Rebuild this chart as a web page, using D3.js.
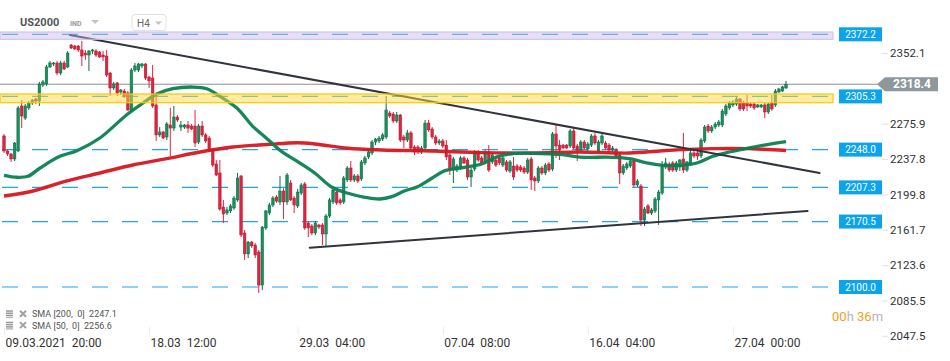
<!DOCTYPE html>
<html><head><meta charset="utf-8">
<script src="https://cdn.jsdelivr.net/npm/d3@7"></script>
<style>
html,body{margin:0;padding:0;background:#fff;}
svg{display:block;font-family:Roboto,"Open Sans",Arial,sans-serif;}
</style></head><body>
<svg id="c" width="950" height="361"></svg>
<script>
// ---- Data (US2000, H4) ----
const opens=[
2262.7,2246.5,2243.3,2237.9,2246.5,2295.0,2282.0,2292.9,2298.2,2302.5,
2300.3,2317.6,2318.7,2337.0,2340.2,2341.3,2330.5,2341.3,2337.0,2360.7,
2359.6,2359.6,2355.3,2352.0,2349.9,2354.2,2354.2,2353.1,2349.9,2348.8,
2330.5,2314.4,2319.8,2310.0,2311.1,2309.0,2290.7,2333.7,2333.7,2338.1,
2340.2,2326.2,2325.1,2296.1,2263.8,2267.0,2261.6,2274.5,2271.2,2283.1,
2272.3,2272.3,2274.5,2273.4,2273.4,2256.2,2273.4,2263.8,2260.5,2247.5,
2232.5,2222.8,2186.2,2179.7,2181.9,2185.1,2193.8,2219.6,2158.2,2135.6,
2148.4,2145.2,2137.7,2102.1,2163.6,2179.7,2188.4,2196.9,2191.6,2203.4,
2191.6,2212.0,2195.8,2187.3,2201.2,2211.0,2168.9,2165.7,2158.2,2166.8,
2166.8,2157.1,2176.5,2191.6,2202.3,2193.8,2191.6,2215.3,2228.2,2215.3,
2219.6,2216.4,2233.6,2240.1,2244.4,2256.2,2257.3,2259.4,2261.6,2287.4,
2286.4,2278.8,2285.3,2261.6,2258.3,2266.0,2250.8,2250.8,2245.5,2249.7,
2276.6,2270.2,2261.6,2255.1,2257.3,2252.9,2242.2,2226.0,2226.0,2228.2,
2239.0,2236.8,2218.5,2227.1,2245.5,2239.0,2234.7,2245.5,2234.7,2236.8,
2239.0,2231.4,2234.7,2224.9,2230.3,2230.3,2229.2,2228.2,2223.8,2237.9,
2217.4,2214.2,2228.2,2222.8,2232.5,2227.1,2264.8,2252.9,2252.9,2252.9,
2251.9,2268.1,2251.9,2247.5,2256.2,2248.8,2252.9,2262.7,2246.5,2255.1,
2255.1,2252.9,2247.5,2247.5,2242.2,2222.8,2228.2,2230.3,2235.7,2209.9,
2208.8,2172.1,2187.3,2179.7,2181.9,2193.8,2201.2,2229.2,2232.5,2233.6,
2226.0,2229.2,2237.9,2226.0,2233.6,2244.4,2244.4,2241.1,2257.3,2273.4,
2268.1,2272.3,2274.5,2274.5,2286.4,2292.9,2296.1,2297.1,2302.5,2298.2,
2298.2,2297.1,2297.1,2293.9,2293.9,2296.1,2288.5,2298.2,2296.1,2310.1,
2311.1,2314.4];
const highs=[
2264.8,2247.5,2244.4,2256.2,2295.0,2301.4,2297.1,2300.3,2302.5,2303.6,
2320.9,2323.0,2339.2,2343.5,2342.4,2343.5,2343.5,2343.5,2354.2,2361.8,
2360.7,2360.7,2365.0,2355.3,2355.3,2356.4,2356.4,2354.2,2354.2,2355.3,
2331.6,2320.9,2320.9,2313.3,2313.3,2311.1,2335.9,2341.3,2341.3,2341.3,
2341.3,2327.3,2339.2,2306.8,2272.3,2268.1,2277.7,2292.9,2295.0,2285.3,
2278.8,2275.6,2278.8,2275.6,2290.7,2275.6,2278.8,2266.0,2262.7,2248.6,
2236.8,2236.8,2193.8,2186.2,2189.4,2198.0,2222.8,2220.6,2161.4,2149.5,
2149.5,2147.4,2139.9,2165.7,2183.0,2190.6,2198.0,2199.1,2219.6,2206.6,
2222.8,2215.3,2198.0,2205.6,2212.0,2213.1,2171.0,2167.9,2171.0,2167.9,
2168.9,2178.6,2195.8,2206.6,2204.5,2195.8,2219.6,2230.3,2235.7,2221.7,
2221.7,2236.8,2241.1,2247.5,2258.3,2260.5,2262.7,2266.0,2305.7,2289.6,
2288.5,2288.5,2286.4,2263.8,2269.2,2268.1,2252.9,2252.9,2251.9,2279.9,
2279.9,2272.3,2263.8,2259.4,2259.4,2258.3,2244.4,2240.1,2232.5,2241.1,
2241.1,2239.0,2228.2,2247.5,2247.5,2241.1,2247.5,2252.9,2244.4,2239.0,
2241.1,2241.1,2236.8,2236.8,2240.1,2232.5,2231.4,2230.3,2239.0,2240.1,
2219.6,2230.3,2230.3,2233.6,2234.7,2267.0,2274.5,2258.3,2254.0,2254.0,
2270.2,2271.3,2254.0,2258.3,2258.3,2256.2,2264.8,2266.0,2258.3,2264.8,
2257.3,2255.1,2251.9,2249.7,2245.5,2232.5,2234.7,2237.9,2237.9,2216.4,
2211.0,2186.2,2189.4,2185.1,2196.9,2204.5,2235.7,2239.0,2234.7,2235.7,
2235.7,2237.9,2266.0,2235.7,2247.5,2246.5,2249.7,2260.5,2274.5,2275.6,
2274.5,2277.7,2279.9,2291.8,2297.1,2300.3,2301.4,2304.7,2303.6,2300.3,
2306.8,2299.2,2299.2,2297.1,2297.1,2298.2,2299.2,2306.8,2313.3,2314.4,
2316.6,2322.0];
const lows=[
2244.4,2241.1,2234.7,2235.7,2245.5,2271.2,2279.9,2290.7,2296.1,2297.1,
2295.0,2315.5,2316.6,2335.9,2338.1,2328.3,2328.3,2333.7,2335.9,2356.4,
2355.3,2353.1,2338.1,2344.6,2332.7,2351.0,2347.8,2346.7,2343.5,2326.2,
2305.7,2312.2,2305.7,2306.8,2303.6,2289.6,2288.5,2331.6,2331.6,2335.9,
2323.0,2314.4,2292.9,2257.3,2261.6,2259.4,2258.3,2241.1,2268.1,2277.7,
2268.1,2270.2,2266.0,2269.2,2250.8,2254.0,2261.6,2255.1,2245.5,2229.2,
2219.6,2181.9,2168.9,2177.5,2179.7,2183.0,2191.6,2153.8,2129.1,2131.2,
2142.1,2131.2,2093.6,2096.7,2161.4,2177.5,2186.2,2190.6,2188.4,2173.2,
2188.4,2192.6,2179.7,2185.1,2199.1,2161.4,2153.8,2155.9,2155.9,2162.5,
2145.2,2144.2,2174.3,2189.4,2188.4,2188.4,2189.4,2213.1,2213.1,2213.1,
2212.0,2214.2,2231.4,2237.9,2242.2,2252.9,2255.1,2257.3,2259.4,2282.0,
2276.6,2276.6,2256.2,2249.7,2256.2,2248.6,2242.2,2243.3,2243.3,2247.5,
2267.0,2259.4,2252.9,2252.9,2249.7,2236.8,2220.6,2212.0,2223.8,2226.0,
2232.5,2215.3,2207.7,2224.9,2234.7,2231.4,2232.5,2223.8,2232.5,2229.2,
2231.4,2229.2,2223.8,2222.8,2215.3,2223.8,2223.8,2221.7,2221.7,2204.5,
2203.4,2212.0,2220.6,2220.6,2223.8,2224.9,2239.0,2236.8,2248.8,2248.8,
2249.7,2248.6,2235.7,2245.5,2248.6,2246.5,2250.8,2252.9,2244.4,2252.9,
2247.7,2245.5,2245.5,2239.0,2211.0,2220.6,2226.0,2228.2,2207.7,2207.7,
2165.7,2165.7,2178.6,2177.5,2179.7,2166.8,2199.1,2227.1,2223.8,2223.8,
2223.8,2224.9,2222.8,2223.8,2231.4,2239.0,2236.8,2239.0,2255.1,2266.0,
2266.0,2270.2,2272.3,2272.3,2284.2,2290.7,2293.9,2295.0,2289.6,2289.6,
2289.6,2292.9,2290.7,2292.9,2292.9,2282.0,2286.4,2289.6,2293.9,2309.0,
2310.1,2313.3];
const closes=[
2246.5,2243.3,2237.9,2255.1,2292.9,2284.2,2295.0,2298.2,2301.4,2300.3,
2318.7,2320.9,2337.0,2341.3,2341.3,2330.5,2341.3,2334.8,2352.0,2357.4,
2356.4,2355.3,2348.8,2349.9,2354.2,2355.3,2349.9,2347.8,2347.8,2328.3,
2314.4,2318.7,2309.0,2312.2,2305.7,2290.7,2333.7,2338.1,2340.2,2340.2,
2325.1,2322.0,2295.0,2263.8,2267.0,2260.5,2275.6,2271.2,2283.1,2279.9,
2274.5,2274.5,2271.2,2270.2,2255.1,2273.4,2263.8,2257.3,2247.5,2231.4,
2220.6,2184.0,2178.6,2183.0,2187.3,2195.8,2217.4,2156.0,2135.6,2148.4,
2144.2,2134.5,2102.1,2164.6,2181.9,2188.4,2195.8,2192.6,2203.4,2191.6,
2220.6,2193.8,2188.4,2202.3,2209.9,2163.6,2163.6,2158.2,2168.9,2164.6,
2157.1,2176.5,2193.8,2204.5,2190.6,2190.6,2217.4,2228.2,2215.3,2219.6,
2214.2,2234.7,2239.0,2245.5,2256.2,2259.4,2260.5,2263.8,2290.7,2284.2,
2278.8,2285.3,2258.3,2258.3,2266.0,2249.7,2245.5,2245.5,2249.7,2276.6,
2269.2,2261.6,2255.1,2257.3,2251.9,2240.1,2226.0,2237.9,2230.3,2239.0,
2233.6,2218.5,2226.0,2245.5,2236.8,2233.6,2245.5,2226.0,2242.2,2231.4,
2233.6,2239.0,2226.0,2234.7,2218.5,2226.0,2226.0,2223.8,2236.8,2215.3,
2214.2,2228.2,2222.8,2231.4,2226.0,2264.8,2251.9,2247.5,2249.7,2249.7,
2268.1,2249.7,2247.5,2256.2,2249.7,2254.0,2262.7,2255.1,2256.2,2262.7,
2249.7,2247.5,2249.7,2241.1,2222.8,2230.3,2232.5,2235.7,2209.9,2214.2,
2172.1,2184.0,2179.7,2183.0,2194.8,2202.3,2230.3,2233.6,2226.0,2226.0,
2233.6,2236.8,2226.0,2234.7,2244.4,2241.1,2241.1,2258.3,2272.3,2268.1,
2272.3,2275.6,2277.7,2289.6,2295.0,2298.2,2299.2,2302.5,2291.8,2291.8,
2295.0,2295.0,2292.9,2296.1,2296.1,2288.5,2297.1,2291.8,2311.1,2313.3,
2315.5,2318.4];

// SMA lines (candle index, value)
const sma200Idx=[0,8.2,17.8,27.1,36.4,46,55.4,64.7,74.3,83,87.9,97.2,106.8,120.9,135,149.2,162.7,176.8,186.2,200.3,209.9,221];
const sma200Val=[2198.0,2203.4,2214.2,2222.8,2231.4,2238.2,2245.4,2250.8,2253.5,2255.4,2254.1,2249.4,2247.6,2246.5,2244.7,2244.3,2245.4,2244.3,2246.8,2249.0,2249.0,2247.1];
const sma50Idx=[0,3.7,6.8,10.2,15.8,20.6,27.1,34.7,39.3,43.2,47.7,53.4,57.3,61,65.8,70.3,73.7,78.5,83,87.9,92.7,97.2,102,106.2,109.6,113.3,116.9,120.9,124.6,130.2,135,139.5,144.4,149.2,157.9,162.7,172,176.8,181.6,186.2,191,195.8,200.3,205.1,214.4,221];
const sma50Val=[2220.3,2218.2,2219.3,2228.2,2240.8,2246.8,2260.5,2285.6,2298.2,2307.9,2313.6,2315.4,2313.6,2305.4,2292.8,2273.1,2261.9,2245.8,2235.0,2222.5,2207.4,2201.0,2196.6,2194.8,2197.3,2203.7,2208.0,2217.1,2225.3,2228.9,2232.5,2240.4,2244.0,2244.0,2242.5,2240.0,2239.7,2238.2,2233.6,2231.1,2231.1,2233.6,2240.8,2245.4,2252.6,2256.6];

// Trend lines (candle index, value)
const trendUpper=[[18.6,2371.5],[230.5,2222.8]];
const trendLower=[[86.4,2142.3],[227.1,2181.9]];

// Horizontal levels
const levels=[2372.2,2305.3,2248.0,2207.3,2170.5,2100.0];
const zonePurple=[2366.8,2374.7];
const zoneYellow=[2298.5,2307.9];
const lastPrice=2318.4;

// Axes
const yTicks=[2352.1,2275.9,2237.8,2199.8,2161.7,2123.6,2085.5,2047.5];
const xTickIdx=[0,41,83,124,165,206];
const xTickLabels=["09.03.2021  20:00","18.03  12:00","29.03  04:00","07.04  08:00","16.04  04:00","27.04  00:00"];
const legendLabels=["SMA [200,  0]  2247.1","SMA [50,  0]  2256.6"];

// ---- Drawing ----
const svg=d3.select("#c");
const n=Math.min(opens.length,highs.length,lows.length,closes.length);
const x=d3.scaleLinear().domain([0,221]).range([4,786]);
const y=d3.scaleLinear().domain([2100,2372.2]).range([287,34.3]);

const GREEN="#17905d", GREEN_D="#0c6b43", RED="#e2233f", RED_D="#b0162b";

// dashed level lines
svg.append("g").selectAll("line").data(levels).join("line")
  .attr("x1",2).attr("x2",830)
  .attr("y1",d=>y(d)).attr("y2",d=>y(d))
  .attr("stroke","#1ea7ec").attr("stroke-width",1.2)
  .attr("stroke-dasharray","16 14");

// current price line
svg.append("line").attr("x1",0).attr("x2",878)
  .attr("y1",y(lastPrice)).attr("y2",y(lastPrice))
  .attr("stroke","#8f8f8f").attr("stroke-width",1);

// candles
const cg=svg.append("g");
const idx=d3.range(n);
cg.selectAll("line.w").data(idx).join("line").attr("class","w")
  .attr("x1",i=>x(i)).attr("x2",i=>x(i))
  .attr("y1",i=>y(highs[i])).attr("y2",i=>y(lows[i]))
  .attr("stroke",i=>closes[i]>=opens[i]?GREEN_D:RED)
  .attr("stroke-width",1);
cg.selectAll("rect").data(idx).join("rect")
  .attr("x",i=>x(i)-1.3).attr("width",2.6)
  .attr("y",i=>y(Math.max(opens[i],closes[i])))
  .attr("height",i=>Math.max(1,Math.abs(y(opens[i])-y(closes[i]))))
  .attr("fill",i=>closes[i]>=opens[i]?GREEN:RED)
  .attr("stroke",i=>closes[i]>=opens[i]?GREEN_D:RED_D)
  .attr("stroke-width",0.5);

// SMA lines
const lineGen=d3.line().x(d=>x(d[0])).y(d=>y(d[1])).curve(d3.curveCatmullRom.alpha(0.5));
svg.append("path").datum(sma200Idx.map((d,i)=>[d,sma200Val[i]]))
  .attr("d",lineGen).attr("fill","none").attr("stroke","#d7161d").attr("stroke-width",3.4).attr("stroke-opacity",0.95);
svg.append("path").datum(sma50Idx.map((d,i)=>[d,sma50Val[i]]))
  .attr("d",lineGen).attr("fill","none").attr("stroke","#0a8150").attr("stroke-width",3.3).attr("stroke-opacity",0.95);

// trend lines
const tl=d3.line().x(d=>x(d[0])).y(d=>y(d[1]));
[trendUpper,trendLower].forEach(t=>{
  svg.append("path").datum(t).attr("d",tl).attr("fill","none")
    .attr("stroke","#2f353b").attr("stroke-width",2).attr("stroke-linecap","round");
});

// zones
svg.append("rect").attr("x",0).attr("width",833)
  .attr("y",y(zonePurple[1])).attr("height",y(zonePurple[0])-y(zonePurple[1]))
  .attr("fill","rgba(200,184,232,0.45)").attr("stroke","#cbbde6").attr("stroke-width",1);
svg.append("rect").attr("x",0).attr("width",833)
  .attr("y",y(zoneYellow[1])).attr("height",y(zoneYellow[0])-y(zoneYellow[1]))
  .attr("fill","rgba(255,216,70,0.5)").attr("stroke","#f7c900").attr("stroke-width",1.2);

// level labels
const lg=svg.append("g");
lg.selectAll("rect").data(levels).join("rect")
  .attr("x",839).attr("width",43).attr("y",d=>y(d)-7).attr("height",14)
  .attr("fill","#0ba4ec");
lg.selectAll("text").data(levels).join("text")
  .attr("x",860.5).attr("y",d=>y(d)).attr("dy","0.35em")
  .attr("text-anchor","middle").attr("fill","#fff").attr("font-size","10px")
  .text(d=>d.toFixed(1));

// y axis
const ya=svg.append("g").attr("transform","translate(882,0)")
  .call(d3.axisRight(y).tickValues(yTicks).tickSize(6).tickPadding(2).tickFormat(d3.format(".1f")));
ya.select(".domain").remove();
ya.selectAll(".tick line").attr("stroke","#e2e2e2");
ya.selectAll(".tick text").attr("fill","#333").attr("font-size","11.5px").attr("font-family","Roboto, sans-serif");

// current price tag
const yp=y(lastPrice);
svg.append("path").attr("d",`M877,${yp} L885,${yp-7} L938,${yp-7} L938,${yp+7} L885,${yp+7} Z`).attr("fill","#8d979c");
svg.append("text").attr("x",912).attr("y",yp).attr("dy","0.35em").attr("text-anchor","middle")
  .attr("fill","#fff").attr("font-size","12px").attr("font-weight","bold").text(lastPrice.toFixed(1));

// x axis
const xa=svg.append("g").attr("transform","translate(0,327)")
  .call(d3.axisBottom(x).tickValues(xTickIdx).tickSize(8).tickFormat((d,i)=>xTickLabels[i]));
xa.select(".domain").remove();
xa.selectAll(".tick line").attr("stroke","#ececec");
xa.selectAll(".tick text").attr("text-anchor","start").attr("x",1).attr("y",16).attr("dy","0.35em")
  .attr("fill","#333").attr("font-size","12px").attr("font-family","Roboto, sans-serif")
  .style("white-space","pre");

// header
svg.append("text").attr("x",20).attr("y",22).attr("dy","0.35em").attr("font-size","11px").attr("font-weight","bold").attr("fill","#555").text("US2000");
svg.append("text").attr("x",70).attr("y",24).attr("dy","0.35em").attr("font-size","7px").attr("font-weight","bold").attr("fill","#9a9a9a").text("IND");
svg.append("path").attr("d","M91,20 L99,20 L95,24 Z").attr("fill","#c4c4c4");
svg.append("rect").attr("x",132).attr("y",14.5).attr("width",34).attr("height",16).attr("rx",3)
  .attr("fill","#fff").attr("stroke","#e3e3e3");
svg.append("text").attr("x",137).attr("y",23).attr("dy","0.35em").attr("font-size","10px").attr("fill","#666").text("H4");
svg.append("path").attr("d","M155,21.5 L162,21.5 L158.5,25 Z").attr("fill","#c4c4c4");

// legend
legendLabels.forEach((t,i)=>{
  const cy=314.3+i*11.4;
  const g=svg.append("g");
  [-3.4,-1.2,1.0].forEach((o)=>g.append("rect").attr("x",6).attr("y",cy+o-0.6).attr("width",7).attr("height",1.5).attr("fill","#999"));
  g.append("rect").attr("x",6).attr("y",cy+2.4).attr("width",7).attr("height",1.5).attr("fill","#bbb");
  g.append("path").attr("d",`M20,${cy-3.6} L26,${cy+2.4} M26,${cy-3.6} L20,${cy+2.4}`).attr("stroke","#a0a0a0").attr("stroke-width",2);
  g.append("text").attr("x",32).attr("y",cy).attr("dy","0.35em").attr("font-size","9px").attr("fill","#555")
    .style("white-space","pre").text(t);
});

// timer
const tt=svg.append("text").attr("x",832).attr("y",316).attr("dy","0.35em").attr("font-size","13px");
tt.append("tspan").attr("fill","#f5a020").text("00");
tt.append("tspan").attr("fill","#b5b5b5").text("h ");
tt.append("tspan").attr("fill","#f5a020").text("36");
tt.append("tspan").attr("fill","#b5b5b5").text("m");
</script>
</body></html>
